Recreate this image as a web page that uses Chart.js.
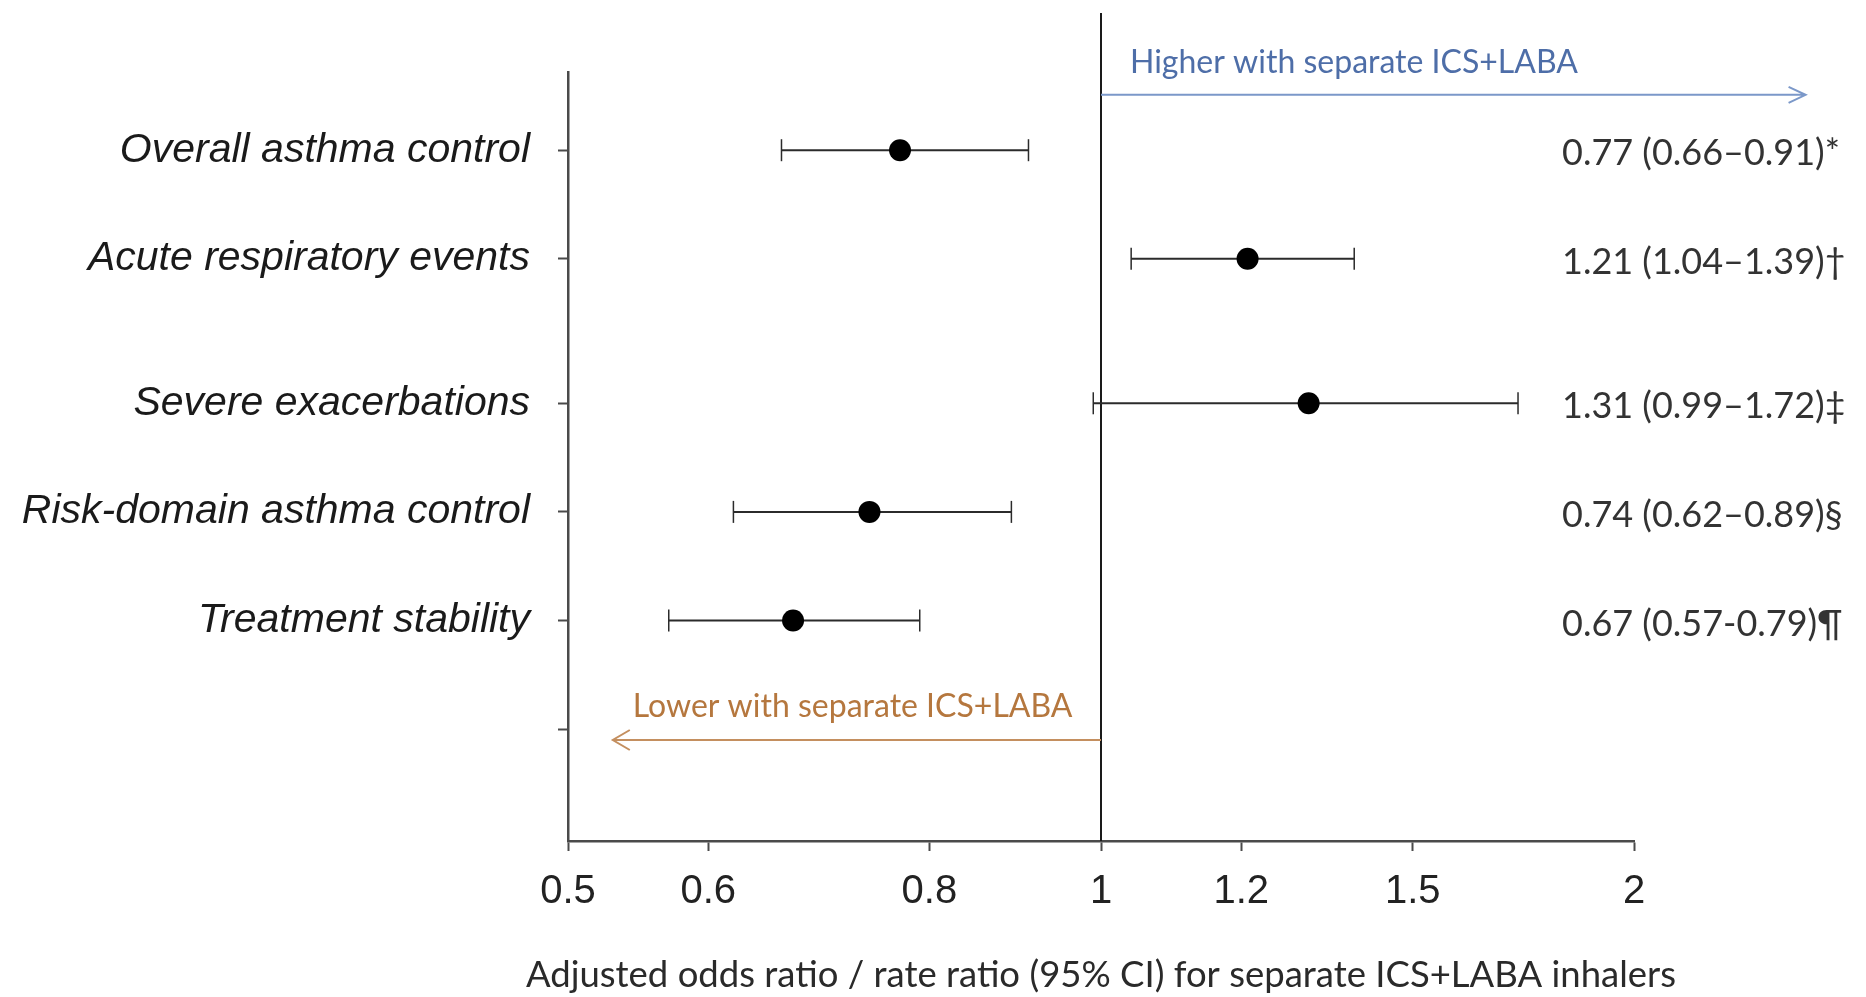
<!DOCTYPE html>
<html>
<head>
<meta charset="utf-8">
<script src="https://cdn.jsdelivr.net/npm/chart.js@4.4.1/dist/chart.umd.min.js"></script>
<style>
    html, body { margin: 0; padding: 0; background: #fff; }
    #wrap { width: 1866px; height: 997px; }
</style>
</head>
<body>
<div id="wrap"><canvas id="chart" width="1866" height="997"></canvas></div>
<script>
// Outcomes, top to bottom
const outcomes = [
    'Overall asthma control',
    'Acute respiratory events',
    'Severe exacerbations',
    'Risk-domain asthma control',
    'Treatment stability'
];
// Row of each outcome on the vertical axis (severe exacerbations sits a bit lower)
const outcomeRows = [1, 2, 3.33, 4.33, 5.33];
const spareRow = 6.33;

// Adjusted odds ratio / rate ratio and 95% CI
const ratios = [0.77, 1.21, 1.31, 0.74, 0.67];
const ciLow = [0.66, 1.04, 0.99, 0.62, 0.57];
const ciHigh = [0.91, 1.39, 1.72, 0.89, 0.79];
const ciLabels = [
    '0.77 (0.66–0.91)*',
    '1.21 (1.04–1.39)†',
    '1.31 (0.99–1.72)‡',
    '0.74 (0.62–0.89)§',
    '0.67 (0.57-0.79)¶'
];

// X axis ticks (log scale)
const xTicks = [0.5, 0.6, 0.8, 1, 1.2, 1.5, 2];
const xTitle = 'Adjusted odds ratio / rate ratio (95% CI) for separate ICS+LABA inhalers';

const LINE = '#2b2b2b';
const AXIS = '#4a4a4a';

// Draw a line with an open arrow head at (x2, y)
function drawArrow(ctx, x1, x2, y, color, head, half) {
    const dir = x2 > x1 ? 1 : -1;
    ctx.strokeStyle = color;
    ctx.lineWidth = 2;
    ctx.beginPath();
    ctx.moveTo(x1, y);
    ctx.lineTo(x2, y);
    ctx.moveTo(x2 - dir * head, y - half);
    ctx.lineTo(x2, y);
    ctx.lineTo(x2 - dir * head, y + half);
    ctx.stroke();
}

// Reference line, direction arrows and the text around the plot
const annotations = {
    id: 'annotations',
    beforeDatasetsDraw(chart) {
        const { ctx, chartArea, scales: { x, y } } = chart;
        const x1 = x.getPixelForValue(1);
        ctx.save();

        // no-effect line at 1
        ctx.strokeStyle = '#1a1a1a';
        ctx.lineWidth = 2;
        ctx.beginPath();
        ctx.moveTo(x1, chartArea.top - 59);
        ctx.lineTo(x1, chartArea.bottom);
        ctx.stroke();

        // higher with separate inhalers
        const yHigh = y.getPixelForValue(0.49);
        drawArrow(ctx, x1, x.getPixelForValue(2.5), yHigh, '#7b98c9', 17, 8);
        ctx.font = '32px Lato';
        ctx.fillStyle = '#4e6ea8';
        ctx.textAlign = 'left';
        ctx.textBaseline = 'alphabetic';
        ctx.fillText('Higher with separate ICS+LABA', x1 + 29, yHigh - 22);

        // lower with separate inhalers
        const yLow = y.getPixelForValue(6.43);
        const xLowEnd = x.getPixelForValue(0.53);
        drawArrow(ctx, x1, xLowEnd, yLow, '#c48f5f', 17, 10);
        ctx.fillStyle = '#b5773e';
        ctx.fillText('Lower with separate ICS+LABA', xLowEnd + 20, yLow - 23);

        // estimates written on the right
        ctx.font = '36px Lato';
        ctx.fillStyle = '#333';
        ciLabels.forEach((label, i) => {
            ctx.fillText(label, chart.width - 304, y.getPixelForValue(outcomeRows[i]) + 15);
        });

        // axis title, a little wider than the axis itself
        ctx.font = '37px Lato';
        ctx.fillStyle = '#2a2a2a';
        ctx.textAlign = 'center';
        const w = ctx.measureText(xTitle).width;
        const squeeze = Math.min(1, 1150 / w);
        ctx.translate((chartArea.left + chartArea.right) / 2, chartArea.bottom + 146);
        ctx.scale(squeeze, 1);
        ctx.fillText(xTitle, 0, 0);

        ctx.restore();
    }
};

// Point estimates first so they are drawn on top of the CI lines
const datasets = [{
    data: ratios.map((r, i) => ({ x: r, y: outcomeRows[i] })),
    pointRadius: 11,
    pointHoverRadius: 11,
    backgroundColor: '#000',
    borderWidth: 0
}];
outcomes.forEach((name, i) => {
    datasets.push({
        data: [{ x: ciLow[i], y: outcomeRows[i] }, { x: ciHigh[i], y: outcomeRows[i] }],
        showLine: true,
        borderColor: LINE,
        borderWidth: 2,
        pointStyle: 'line',
        rotation: 90,
        pointRadius: 11,
        pointHoverRadius: 11,
        pointBorderWidth: 1.5,
        pointBorderColor: LINE
    });
});

const yTicks = outcomeRows.concat([spareRow]);

new Chart(document.getElementById('chart'), {
    type: 'scatter',
    data: { datasets },
    options: {
        responsive: false,
        animation: false,
        clip: false,
        layout: { padding: { top: 72, right: 232, bottom: 0, left: 0 } },
        plugins: {
            legend: { display: false },
            tooltip: { enabled: false }
        },
        scales: {
            x: {
                type: 'logarithmic',
                min: 0.5,
                max: 2,
                afterBuildTicks: s => { s.ticks = xTicks.map(v => ({ value: v })); },
                afterFit: s => { s.height = 156; },
                border: { display: true, color: AXIS, width: 2.5 },
                grid: { drawOnChartArea: false, drawTicks: true, tickLength: 10, tickColor: AXIS, tickWidth: 2 },
                ticks: {
                    autoSkip: false,
                    maxRotation: 0,
                    padding: 17,
                    color: '#222',
                    font: { family: 'Liberation Sans', size: 40 },
                    callback: v => String(v)
                }
            },
            y: {
                type: 'linear',
                reverse: true,
                min: 0.28,
                max: 7.36,
                afterBuildTicks: s => { s.ticks = yTicks.map(v => ({ value: v })); },
                afterFit: s => { s.width = 568; },
                border: { display: true, color: AXIS, width: 2.5 },
                grid: { drawOnChartArea: false, drawTicks: true, tickLength: 10, tickColor: AXIS, tickWidth: 2 },
                ticks: {
                    autoSkip: false,
                    padding: 28,
                    color: '#1a1a1a',
                    font: { family: 'Liberation Sans', size: 41, style: 'italic' },
                    callback: v => {
                        const i = outcomeRows.indexOf(v);
                        return i >= 0 ? outcomes[i] : '';
                    }
                }
            }
        }
    },
    plugins: [annotations]
});
</script>
</body>
</html>
